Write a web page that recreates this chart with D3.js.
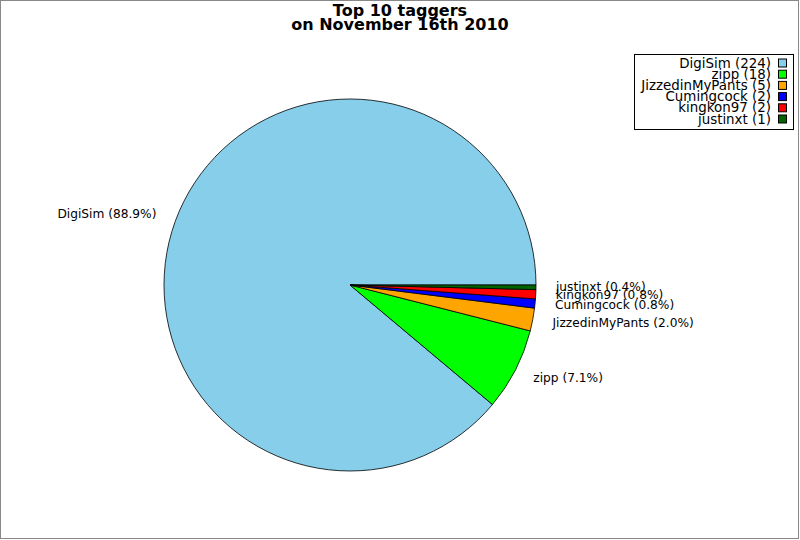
<!DOCTYPE html>
<html><head><meta charset="utf-8">
<script src="https://cdn.jsdelivr.net/npm/d3@7"></script>
<style>body{margin:0;background:#fff}svg{display:block}text{font-family:"DejaVu Sans",sans-serif}</style>
</head><body>
<svg id="c" width="800" height="540"></svg>
<script>
const names = ["DigiSim","zipp","JizzedinMyPants","Cumingcock","kingkon97","justinxt"];
const counts = [224,18,5,2,2,1];
const colors = ["#87CEEB","#00FF00","#FFA500","#0000FF","#FF0000","#006400"];
const titleLines = ["Top 10 taggers","on November 16th 2010"];

const svg = d3.select("#c");
svg.append("rect").attr("x",0.5).attr("y",0.5).attr("width",798).attr("height",538)
  .attr("fill","#fff").attr("stroke","#888");

svg.selectAll("text.title").data(titleLines).join("text").attr("class","title")
  .attr("x",400).attr("y",(d,i)=>16+i*13.5).attr("text-anchor","middle")
  .attr("font-weight","bold").attr("font-size",16).text(d=>d);

const data = names.map((n,i)=>({name:n,value:counts[i],color:colors[i]}));
const total = d3.sum(counts);
const cx=350, cy=285, r=186, lr=206;
const pie = d3.pie().value(d=>d.value).sort(null).startAngle(Math.PI/2).endAngle(Math.PI/2-2*Math.PI);
const arcs = pie(data);
const arc = d3.arc().innerRadius(0).outerRadius(r);
const g = svg.append("g").attr("transform",`translate(${cx},${cy})`);
g.selectAll("path").data(arcs).join("path").attr("d",arc)
  .attr("fill",d=>d.data.color).attr("stroke","#000").attr("stroke-width",0.8);

const fmt = d3.format(".1f");
g.selectAll("text.lbl").data(arcs).join("text").attr("class","lbl")
  .each(function(d){
    const a=(d.startAngle+d.endAngle)/2;
    const x=Math.sin(a)*lr, y=-Math.cos(a)*lr;
    d3.select(this).attr("x",x).attr("y",y)
      .attr("text-anchor",x<0?"end":"start")
      .attr("dominant-baseline","middle");
  })
  .attr("font-size",12.2).attr("fill","#000")
  .text(d=>`${d.data.name} (${fmt(d.data.value/total*100)}%)`);

const lg = svg.append("g");
lg.append("rect").attr("x",634.5).attr("y",54.5).attr("width",159).attr("height",75)
  .attr("fill","#fff").attr("stroke","#000");
const rows = lg.selectAll("g.row").data(data).join("g").attr("class","row")
  .attr("transform",(d,i)=>`translate(0,${63+i*11.2})`);
rows.append("rect").attr("x",778.5).attr("y",-4).attr("width",8).attr("height",8)
  .attr("fill",d=>d.color).attr("stroke","#000");
rows.append("text").attr("x",771).attr("y",0.5).attr("text-anchor","end")
  .attr("dominant-baseline","middle").attr("font-size",13.4)
  .text(d=>`${d.name} (${d.value})`);
</script>
</body></html>
